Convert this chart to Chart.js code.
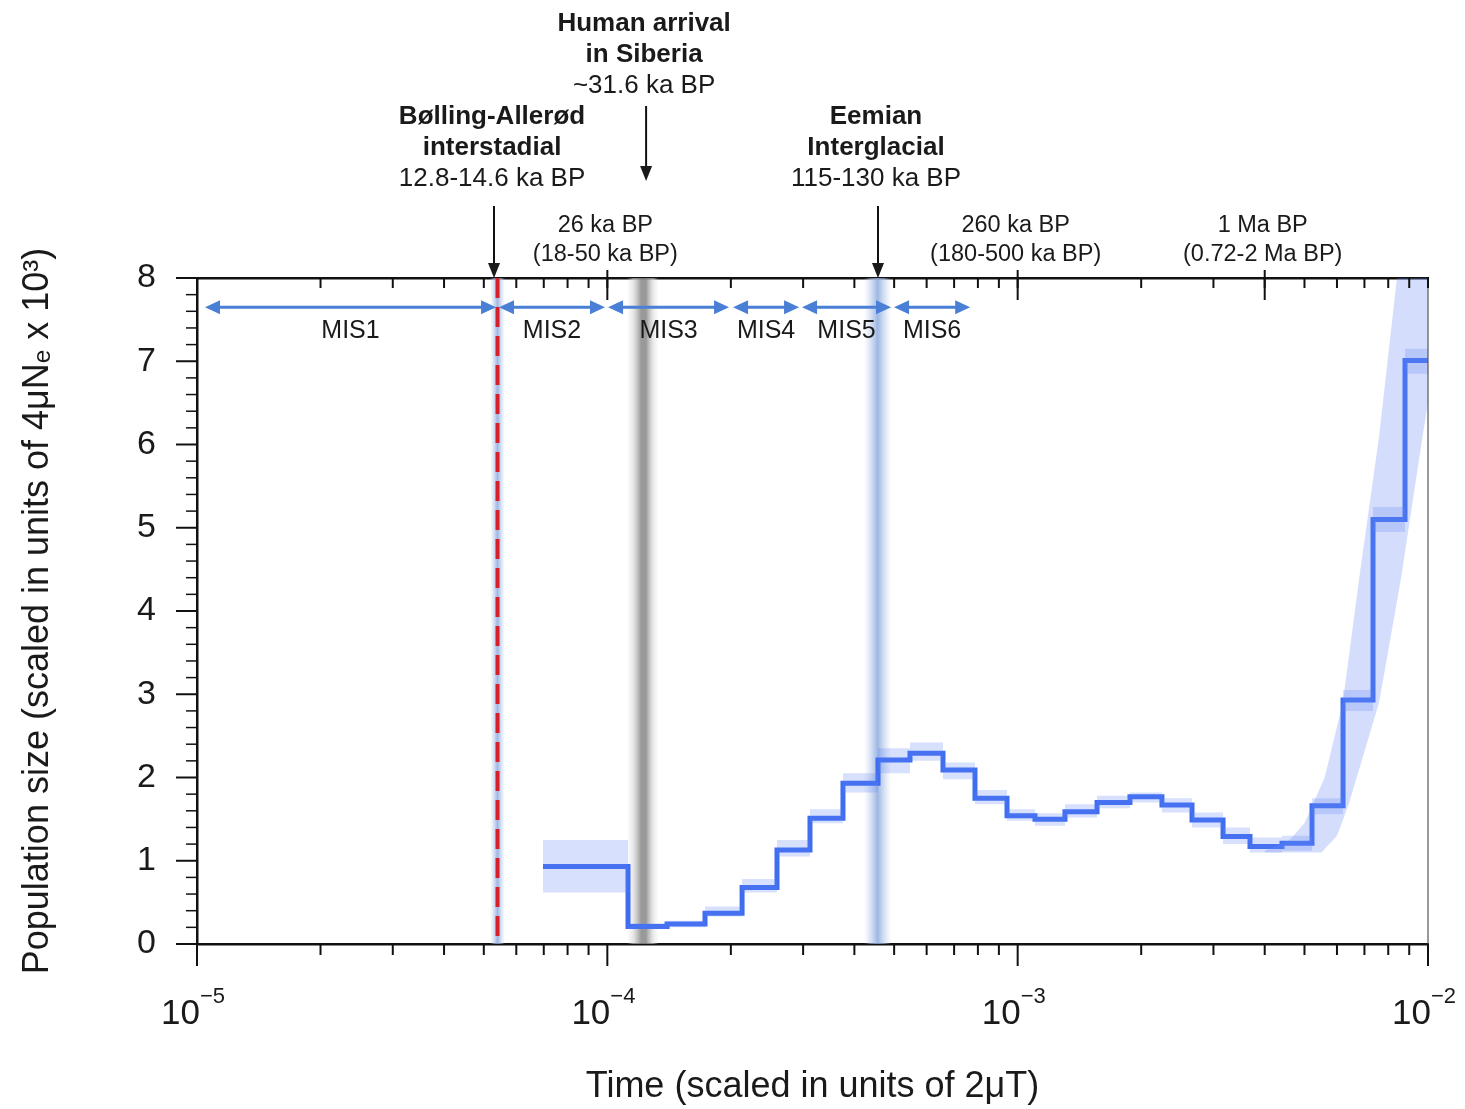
<!DOCTYPE html>
<html>
<head>
<meta charset="utf-8">
<script src="https://cdn.jsdelivr.net/npm/chart.js@4.4.1/dist/chart.umd.min.js"></script>
<style>
  html, body { margin: 0; padding: 0; background: #fff; }
  #wrap { width: 1465px; height: 1109px; position: relative; }
</style>
</head>
<body>
<div id="wrap"><canvas id="psmcChart"></canvas></div>
<script>
// PSMC history: step start times (2μT) and population size (4μNe x 10^3)
const stepTimes = [6.97e-5, 1.123e-4, 1.398e-4, 1.730e-4, 2.130e-4, 2.591e-4, 3.118e-4, 3.752e-4,
  4.567e-4, 5.465e-4, 6.577e-4, 7.870e-4, 9.42e-4, 1.102e-3, 1.304e-3, 1.561e-3, 1.878e-3,
  2.247e-3, 2.660e-3, 3.166e-3, 3.683e-3, 4.408e-3, 5.216e-3, 6.208e-3, 7.345e-3, 8.790e-3, 1.0e-2];
const popSize = [0.93, 0.21, 0.24, 0.37, 0.68, 1.13, 1.51, 1.93, 2.21, 2.29, 2.09, 1.75, 1.54,
  1.50, 1.59, 1.70, 1.77, 1.67, 1.49, 1.29, 1.17, 1.21, 1.66, 2.93, 5.10, 7.01, 7.01];
// spread of the bootstrap replicates along the steps
const upperBound = [1.25, 0.25, 0.28, 0.45, 0.78, 1.25, 1.62, 2.05, 2.35, 2.42, 2.18, 1.85, 1.62,
  1.57, 1.68, 1.78, 1.82, 1.75, 1.58, 1.40, 1.28, 1.30, 1.75, 3.05, 5.25, 7.15, 7.15];
const lowerBound = [0.62, 0.18, 0.20, 0.33, 0.62, 1.05, 1.45, 1.82, 2.05, 2.20, 1.98, 1.68, 1.48,
  1.42, 1.52, 1.63, 1.70, 1.58, 1.40, 1.20, 1.10, 1.12, 1.56, 2.80, 4.95, 6.85, 6.85];
// outline of the replicate cloud at the oldest times
const cloudTimes = [4.0e-3, 4.6e-3, 5.0e-3, 5.6e-3, 6.2e-3, 6.8e-3, 7.6e-3, 8.4e-3, 1.0e-2,
  1.0e-2, 9.7e-3, 8.6e-3, 7.6e-3, 6.4e-3, 6.0e-3, 5.5e-3, 4.0e-3];
const cloudValues = [1.12, 1.25, 1.45, 2.0, 2.9, 4.4, 6.1, 8.0, 8.0,
  6.5, 6.1, 4.4, 2.9, 1.67, 1.3, 1.1, 1.1];

// marine isotope stages
const misNames = ['MIS1', 'MIS2', 'MIS3', 'MIS4', 'MIS5', 'MIS6'];
const misStart = [1.046e-5, 5.445e-5, 1.004e-4, 2.025e-4, 2.982e-4, 4.997e-4];
const misEnd = [5.355e-5, 9.87e-5, 1.98e-4, 2.933e-4, 4.914e-4, 7.66e-4];
const misLevel = 7.65;

// dated events
const eventTitles = [['Human arrival', 'in Siberia'], ['Bølling-Allerød', 'interstadial'], ['Eemian', 'Interglacial']];
const eventDates = ['~31.6 ka BP', '12.8-14.6 ka BP', '115-130 ka BP'];
const eventTimes = [1.243e-4, 5.295e-5, 4.567e-4];
const humanBand = [1.115e-4, 1.335e-4];
const baBand = [5.18e-5, 5.63e-5];
const eemianBand = [4.22e-4, 4.92e-4];
const baLine = 5.4e-5;

// calendar time on the top axis
const topTickTimes = [1e-4, 1e-3, 4e-3];
const topTickLabels = [['26 ka BP', '(18-50 ka BP)'], ['260 ka BP', '(180-500 ka BP)'], ['1 Ma BP', '(0.72-2 Ma BP)']];

const xExponents = [-5, -4, -3, -2];
const yMax = 8;

const FONT = "'Liberation Sans', Arial, Helvetica, sans-serif";
const INK = '#1a1a1a';

function toPoints(times, values) {
    return times.map((t, i) => ({ x: t, y: values[i] }));
}

function arrowHead(ctx, x, y, dx, dy, len, half) {
    // tip at (x, y), pointing along (dx, dy)
    ctx.beginPath();
    ctx.moveTo(x, y);
    ctx.lineTo(x - dx * len - dy * half, y - dy * len - dx * half);
    ctx.lineTo(x - dx * len + dy * half, y - dy * len + dx * half);
    ctx.closePath();
    ctx.fill();
}

function band(ctx, area, xs, range, stops) {
    const x0 = xs.getPixelForValue(range[0]);
    const x1 = xs.getPixelForValue(range[1]);
    const g = ctx.createLinearGradient(x0, 0, x1, 0);
    stops.forEach(s => g.addColorStop(s[0], s[1]));
    ctx.fillStyle = g;
    ctx.fillRect(x0, area.top, x1 - x0, area.bottom - area.top);
}

const decorations = {
    id: 'decorations',
    beforeDatasetsDraw(chart) {
        const { ctx, chartArea: area, scales: { x: xs, y: ys } } = chart;
        ctx.save();

        const blueStops = [[0, 'rgba(200,215,240,0)'], [0.25, 'rgba(180,200,235,0.55)'],
            [0.5, 'rgba(140,170,222,0.85)'], [0.75, 'rgba(180,200,235,0.55)'], [1, 'rgba(200,215,240,0)']];
        band(ctx, area, xs, baBand, blueStops);
        band(ctx, area, xs, eemianBand, blueStops);
        band(ctx, area, xs, humanBand, [[0, 'rgba(225,225,225,0)'], [0.2, 'rgba(215,215,215,0.6)'],
            [0.45, 'rgba(135,135,135,0.85)'], [0.6, 'rgba(135,135,135,0.85)'],
            [0.82, 'rgba(215,215,215,0.6)'], [1, 'rgba(225,225,225,0)']]);

        // MIS ranges
        const yA = ys.getPixelForValue(misLevel);
        ctx.strokeStyle = '#4a7fd6';
        ctx.fillStyle = '#4a7fd6';
        ctx.lineWidth = 3;
        misNames.forEach((name, i) => {
            const x1 = xs.getPixelForValue(misStart[i]);
            const x2 = xs.getPixelForValue(misEnd[i]);
            ctx.beginPath();
            ctx.moveTo(x1 + 8, yA);
            ctx.lineTo(x2 - 8, yA);
            ctx.stroke();
            arrowHead(ctx, x1, yA, -1, 0, 15, 7);
            arrowHead(ctx, x2, yA, 1, 0, 15, 7);
        });
        ctx.fillStyle = INK;
        ctx.font = '25px ' + FONT;
        ctx.textAlign = 'center';
        ctx.textBaseline = 'middle';
        misNames.forEach((name, i) => {
            const xm = (xs.getPixelForValue(misStart[i]) + xs.getPixelForValue(misEnd[i])) / 2;
            ctx.fillText(name, xm, yA + 24);
        });

        // Bølling-Allerød onset
        const xr = xs.getPixelForValue(baLine);
        ctx.strokeStyle = '#d3202a';
        ctx.lineWidth = 4;
        ctx.setLineDash([20, 9]);
        ctx.beginPath();
        ctx.moveTo(xr, area.top);
        ctx.lineTo(xr, area.bottom);
        ctx.stroke();
        ctx.restore();
    },
    afterDraw(chart) {
        const { ctx, chartArea: area, scales: { x: xs, y: ys } } = chart;
        ctx.save();
        ctx.fillStyle = INK;

        // right frame
        ctx.lineWidth = 1.2;
        ctx.strokeStyle = '#555';
        ctx.beginPath();
        ctx.moveTo(area.right, area.top);
        ctx.lineTo(area.right, area.bottom);
        ctx.stroke();
        ctx.strokeStyle = '#111';

        // log ticks, bottom (outward) and top (inward)
        for (let d = -5; d <= -2; d++) {
            for (let k = 1; k <= 9; k++) {
                const v = k * Math.pow(10, d);
                if (v > 1e-2 * 1.0001) break;
                const px = xs.getPixelForValue(v);
                const major = k === 1;
                ctx.lineWidth = 2;
                ctx.beginPath();
                ctx.moveTo(px, area.bottom);
                ctx.lineTo(px, area.bottom + (major ? 22 : 11));
                ctx.stroke();
                ctx.beginPath();
                ctx.moveTo(px, area.top);
                ctx.lineTo(px, area.top + 10);
                ctx.stroke();
            }
        }
        topTickTimes.forEach(t => {
            const px = xs.getPixelForValue(t);
            ctx.lineWidth = 2;
            ctx.beginPath();
            ctx.moveTo(px, area.top - 8);
            ctx.lineTo(px, area.top + 22);
            ctx.stroke();
        });

        // y ticks, outward
        for (let i = 0; i <= yMax * 5; i++) {
            const py = ys.getPixelForValue(i / 5);
            const major = i % 5 === 0;
            ctx.lineWidth = major ? 2 : 1.5;
            ctx.beginPath();
            ctx.moveTo(area.left - (major ? 21 : 11), py);
            ctx.lineTo(area.left, py);
            ctx.stroke();
        }

        // x tick labels 10^n
        xExponents.forEach(e => {
            const px = xs.getPixelForValue(Math.pow(10, e));
            ctx.font = '35px ' + FONT;
            ctx.textAlign = 'right';
            ctx.textBaseline = 'alphabetic';
            ctx.fillText('10', px + 3, 1024);
            ctx.font = '22px ' + FONT;
            ctx.textAlign = 'left';
            ctx.fillText('\u2212' + Math.abs(e), px + 3, 1003);
        });

        // calendar labels over the top axis
        ctx.font = '23.5px ' + FONT;
        ctx.textAlign = 'center';
        ctx.textBaseline = 'middle';
        topTickTimes.forEach((t, i) => {
            const px = xs.getPixelForValue(t);
            ctx.fillText(topTickLabels[i][0], px - 2, 226);
            ctx.fillText(topTickLabels[i][1], px - 2, 255);
        });

        // event annotations with arrows
        const textTop = [24, 117, 117];
        const arrowTop = [106, 206, 206];
        const arrowTip = [181, area.top, area.top];
        eventTimes.forEach((t, i) => {
            const px = xs.getPixelForValue(t);
            ctx.font = 'bold 26px ' + FONT;
            ctx.fillText(eventTitles[i][0], px - 2, textTop[i]);
            ctx.fillText(eventTitles[i][1], px - 2, textTop[i] + 31);
            ctx.font = '26px ' + FONT;
            ctx.fillText(eventDates[i], px - 2, textTop[i] + 62);
            ctx.lineWidth = 2;
            ctx.beginPath();
            ctx.moveTo(px, arrowTop[i]);
            ctx.lineTo(px, arrowTip[i] - 12);
            ctx.stroke();
            arrowHead(ctx, px, arrowTip[i], 0, 1, 15, 6);
        });
        ctx.restore();
    }
};

new Chart(document.getElementById('psmcChart'), {
    type: 'line',
    data: {
        datasets: [{
            label: 'bootstrap cloud',
            data: toPoints(cloudTimes, cloudValues),
            borderWidth: 0,
            backgroundColor: 'rgba(100,135,245,0.28)',
            pointRadius: 0,
            tension: 0,
            fill: 'shape'
        }, {
            label: 'bootstrap upper',
            data: toPoints(stepTimes, upperBound),
            stepped: 'before',
            borderWidth: 0,
            backgroundColor: 'rgba(95,130,245,0.25)',
            pointRadius: 0,
            fill: '+1'
        }, {
            label: 'bootstrap lower',
            data: toPoints(stepTimes, lowerBound),
            stepped: 'before',
            borderWidth: 0,
            pointRadius: 0,
            fill: false
        }, {
            label: 'PSMC',
            data: toPoints(stepTimes, popSize),
            stepped: 'before',
            borderWidth: 5,
            borderColor: '#3e6df0',
            pointRadius: 0,
            fill: false
        }]
    },
    options: {
        responsive: true,
        maintainAspectRatio: false,
        animation: false,
        layout: { padding: { left: 0, right: 37, top: 278, bottom: 0 } },
        plugins: {
            legend: { display: false },
            tooltip: { enabled: false }
        },
        scales: {
            x: {
                type: 'logarithmic',
                position: 'bottom',
                min: 1e-5,
                max: 1e-2,
                grid: { display: false, drawTicks: false },
                border: { display: true, color: '#111', width: 2.5 },
                ticks: { display: false },
                title: {
                    display: true,
                    text: 'Time (scaled in units of 2μT)',
                    color: INK,
                    font: { family: FONT, size: 36 },
                    padding: { top: 0, bottom: 0 }
                },
                afterFit: scale => { scale.height = 165; }
            },
            x2: {
                type: 'logarithmic',
                position: 'top',
                min: 1e-5,
                max: 1e-2,
                grid: { display: false, drawTicks: false },
                border: { display: true, color: '#111', width: 2.5 },
                ticks: { display: false },
                afterFit: scale => { scale.height = 0; }
            },
            y: {
                min: 0,
                max: yMax,
                grid: { display: false, drawTicks: false },
                border: { display: true, color: '#111', width: 2.5 },
                ticks: {
                    stepSize: 1,
                    padding: 41,
                    color: INK,
                    font: { family: FONT, size: 34 }
                },
                title: {
                    display: true,
                    text: 'Population size (scaled in units of 4μNₑ x 10³)',
                    color: INK,
                    font: { family: FONT, size: 36 },
                    padding: { top: 16, bottom: 0 }
                },
                afterFit: scale => { scale.width = 197; }
            }
        }
    },
    plugins: [decorations]
});
</script>
</body>
</html>
